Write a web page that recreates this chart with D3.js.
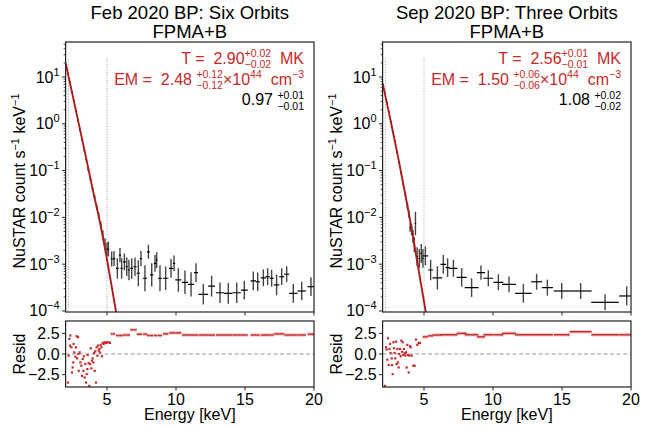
<!DOCTYPE html>
<html>
<head>
<meta charset="utf-8">
<script src="https://cdn.jsdelivr.net/npm/d3@7"></script>
<style>
  body { margin: 0; background: #fff; }
  svg { font-family: "Liberation Sans", Arial, sans-serif; }
  text { white-space: pre; }
</style>
</head>
<body>
<svg id="chart" width="650" height="428"></svg>
<script>
// ---- Feb 2020 (six orbits) ----
const febTitle = ["Feb 2020 BP: Six Orbits", "FPMA+B"];
const febFit = { T: "2.90", Tp: "+0.02", Tm: "\u22120.02", EM: "2.48", EMp: "+0.12", EMm: "\u22120.12", C: "0.97", Cp: "+0.01", Cm: "\u22120.01" };

// model curve (keV, counts/s/keV)
const febModelE = [2.0, 2.5, 3.0, 3.5, 4.0, 4.5, 5.0, 5.5, 5.8];
const febModelRate = [20, 4.2, 0.87, 0.178, 0.0355, 7.6e-3, 1.26e-3, 1.78e-4, 5.4e-5];

// low energy spectrum (dense bins)
const febLoE = [2.15, 2.3, 2.45, 2.6, 2.75, 2.9, 3.05, 3.2, 3.35, 3.5, 3.65, 3.8, 3.95, 4.1, 4.25, 4.4, 4.55, 4.7, 4.85, 5.0, 5.1];
const febLoRate = [11.8, 7.9, 4.8, 3.1, 1.85, 1.2, 0.73, 0.44, 0.27, 0.172, 0.105, 0.066, 0.041, 0.027, 0.0168, 0.0108, 0.0068, 0.0042, 0.0027, 0.0021, 0.0021];
const febLoErr = [0.01, 0.01, 0.01, 0.012, 0.012, 0.015, 0.015, 0.02, 0.02, 0.025, 0.03, 0.035, 0.04, 0.05, 0.06, 0.07, 0.08, 0.1, 0.12, 0.14, 0.16];

// high energy spectrum (wide bins)
const febHiE = [5.34, 5.51, 5.75, 5.94, 6.06, 6.26, 6.43, 6.59, 6.79, 7.03, 7.27, 7.46, 7.75, 8.00, 8.24, 8.48, 8.60, 8.84, 9.25, 9.64, 9.86, 10.17, 10.65, 11.09, 11.45, 11.98, 12.58, 13.19, 13.79, 14.40, 14.95, 15.60, 15.92, 16.33, 16.64, 16.93, 17.29, 17.66, 18.02, 18.50, 19.11, 19.78];
const febHiRate = [1.29e-3, 1.32e-3, 8.1e-4, 1.56e-3, 8.1e-4, 1.12e-3, 8.8e-4, 7.5e-4, 8.1e-4, 8.8e-4, 6.4e-4, 1.32e-3, 5.0e-4, 1.84e-3, 5.9e-4, 1.04e-3, 1.22e-3, 5.0e-4, 5.0e-4, 8.1e-4, 1.04e-3, 4.6e-4, 4.1e-4, 3.7e-4, 6.6e-4, 2.27e-4, 3.4e-4, 2.45e-4, 2.38e-4, 2.45e-4, 2.8e-4, 4.4e-4, 4.2e-4, 5.1e-4, 5.4e-4, 5.0e-4, 3.6e-4, 5.4e-4, 6.1e-4, 2.38e-4, 2.67e-4, 3.3e-4];
const febHiBin = [0.08, 0.08, 0.10, 0.08, 0.08, 0.10, 0.08, 0.08, 0.10, 0.12, 0.12, 0.08, 0.15, 0.10, 0.12, 0.08, 0.06, 0.15, 0.20, 0.15, 0.08, 0.22, 0.22, 0.22, 0.15, 0.35, 0.25, 0.30, 0.30, 0.30, 0.25, 0.20, 0.15, 0.20, 0.15, 0.15, 0.20, 0.18, 0.18, 0.30, 0.30, 0.25];
const febHiErr = [0.16, 0.16, 0.22, 0.15, 0.22, 0.18, 0.2, 0.22, 0.22, 0.2, 0.28, 0.16, 0.28, 0.15, 0.25, 0.18, 0.17, 0.28, 0.25, 0.2, 0.17, 0.25, 0.25, 0.26, 0.2, 0.22, 0.22, 0.22, 0.22, 0.22, 0.2, 0.2, 0.2, 0.18, 0.18, 0.18, 0.22, 0.18, 0.17, 0.2, 0.2, 0.2];
const febHiResid = [2.44, 2.44, 2.24, 2.24, 2.24, 2.3, 2.3, 2.3, 2.93, 2.93, 2.4, 2.4, 2.4, 2.24, 2.24, 2.24, 2.24, 2.24, 2.44, 2.56, 2.56, 2.56, 2.3, 2.3, 2.3, 2.3, 2.3, 2.3, 2.3, 2.3, 2.3, 2.3, 2.3, 2.3, 2.3, 2.3, 2.44, 2.44, 2.3, 2.3, 2.3, 2.4];

// low energy residuals
const febResE = [2.17, 2.22, 2.27, 2.32, 2.34, 2.42, 2.46, 2.51, 2.56, 2.58, 2.63, 2.71, 2.75, 2.80, 2.83, 2.90, 2.92, 2.95, 3.02, 3.07, 3.14, 3.19, 3.24, 3.29, 3.33, 3.38, 3.43, 3.48, 3.53, 3.58, 3.60, 3.67, 3.72, 3.77, 3.82, 3.86, 3.91, 3.96, 4.01, 4.06, 4.11, 4.15, 4.20, 4.25, 4.30, 4.35, 4.40, 4.45, 4.49, 4.54, 4.59, 4.64, 4.69, 4.76, 4.83, 4.93, 5.02, 5.12, 5.22];
const febResV = [-3.46, -0.2, 1.83, 1.02, 2.24, 0.81, -2.24, -1.63, -1.02, 1.22, 0.2, -0.33, 0.81, 2.16, -0.53, 2.04, 0.0, -2.04, 0.2, -1.02, -1.42, -2.65, -0.61, -2.04, -0.28, -2.85, -1.22, -3.46, -2.44, -1.83, -0.12, -1.1, -3.87, -1.22, 0.69, -1.75, -0.81, -0.53, -1.02, 0.12, -2.04, 0.33, -3.46, 0.81, -0.2, 1.02, 0.41, 0.61, 0.2, 1.1, 0.81, -0.28, 1.34, 1.22, 1.42, 1.34, 1.42, 1.42, 1.34];

// ---- Sep 2020 (three orbits) ----
const sepTitle = ["Sep 2020 BP: Three Orbits", "FPMA+B"];
const sepFit = { T: "2.56", Tp: "+0.01", Tm: "\u22120.01", EM: "1.50", EMp: "+0.06", EMm: "\u22120.06", C: "1.08", Cp: "+0.02", Cm: "\u22120.02" };

const sepModelE = [2.0, 2.5, 3.0, 3.5, 4.0, 4.5, 5.0, 5.3];
const sepModelRate = [7.4, 1.51, 0.295, 0.052, 8.5e-3, 1.17e-3, 1.58e-4, 4.8e-5];

const sepLoE = [2.15, 2.3, 2.45, 2.6, 2.75, 2.9, 3.05, 3.2, 3.35, 3.5, 3.65, 3.8, 3.9, 4.0, 4.1, 4.2, 4.3, 4.38, 4.5, 4.66, 4.8, 4.92];
const sepLoRate = [4.5, 2.9, 1.8, 1.12, 0.66, 0.42, 0.245, 0.15, 0.088, 0.052, 0.031, 0.0172, 0.0118, 0.0062, 0.0055, 0.0039, 0.0026, 0.0074, 0.00145, 0.00133, 0.0017, 0.00133];
const sepLoErr = [0.012, 0.012, 0.015, 0.015, 0.018, 0.02, 0.025, 0.03, 0.035, 0.04, 0.05, 0.06, 0.08, 0.1, 0.12, 0.14, 0.16, 0.25, 0.2, 0.2, 0.2, 0.2];

const sepHiE = [5.1, 5.48, 5.97, 6.40, 6.71, 7.13, 7.73, 8.45, 9.13, 9.66, 10.39, 11.16, 12.20, 13.16, 13.94, 14.98, 16.35, 18.12, 19.69];
const sepHiRate = [1.5e-3, 7.5e-4, 5.1e-4, 9.9e-4, 8.4e-4, 8.1e-4, 5.2e-4, 3.15e-4, 6.6e-4, 5.0e-4, 4.1e-4, 3.7e-4, 2.38e-4, 4.2e-4, 3.15e-4, 2.67e-4, 2.67e-4, 1.53e-4, 2.09e-4];
const sepHiBin = [0.2, 0.18, 0.35, 0.20, 0.15, 0.30, 0.36, 0.50, 0.30, 0.36, 0.36, 0.50, 0.60, 0.40, 0.40, 0.58, 0.80, 1.00, 0.55];
const sepHiErr = [0.2, 0.22, 0.25, 0.2, 0.2, 0.18, 0.2, 0.2, 0.15, 0.17, 0.17, 0.17, 0.2, 0.17, 0.17, 0.17, 0.17, 0.17, 0.2];
const sepHiResid = [2.08, 2.2, 2.3, 2.33, 2.33, 2.33, 2.5, 2.33, 2.08, 2.33, 2.33, 2.5, 2.33, 2.33, 2.33, 2.33, 2.7, 2.33, 2.33];

const sepResE = [2.17, 2.25, 2.29, 2.34, 2.39, 2.44, 2.49, 2.54, 2.58, 2.66, 2.68, 2.73, 2.78, 2.83, 2.87, 2.92, 2.97, 3.02, 3.07, 3.12, 3.16, 3.21, 3.26, 3.31, 3.36, 3.41, 3.45, 3.50, 3.55, 3.60, 3.65, 3.70, 3.74, 3.79, 3.84, 3.89, 3.94, 3.99, 4.03, 4.11, 4.23, 4.32, 4.42, 4.52, 4.61, 4.71];
const sepResV = [-3.87, 0.81, 0.53, -0.69, 1.91, -1.34, 0.61, 1.22, 0.12, -0.53, -1.34, -2.44, 1.42, 0.69, 0.12, -0.53, 1.5, -1.22, 0.61, -1.02, -1.63, 0.0, 0.61, -0.28, 1.63, 0.28, 1.42, -0.12, 0.61, 0.12, -0.2, 0.2, -1.63, 1.1, -0.12, -2.24, -0.2, 0.94, 0.81, -0.2, -1.42, -1.42, 1.75, 1.1, 1.34, 1.34];

// shared axis settings
const energyTicks = [5, 10, 15, 20];
const rateTicks = [1e1, 1e0, 1e-1, 1e-2, 1e-3, 1e-4];
const residTicks = [-2.5, 0, 2.5];
const fitRange = [2.2, 5.0];

const RED = "#c42a2a";
const LINE_RED = "#ac1b1b";
const FONT = 16;
const SMALL = 10.5;

const svg = d3.select("#chart");
const mainTop = 42, mainBot = 312, resTop = 321, resBot = 387;

function sup(n) { return n.replace("-", "\u2212"); }

// lays out a row of text pieces (with stacked +/- errors) ending at xRight
function richText(g, xRight, yBase, parts, color) {
    const t = g.append("g").attr("fill", color);
    let cx = 0;
    parts.forEach(p => {
        if (p.stack) {
            const a = t.append("text").attr("x", cx).attr("y", -p.up).attr("font-size", p.size).text(p.stack[0]);
            const b = t.append("text").attr("x", cx).attr("y", p.down).attr("font-size", p.size).text(p.stack[1]);
            cx += Math.max(a.node().getComputedTextLength(), b.node().getComputedTextLength());
        } else {
            const a = t.append("text").attr("x", cx).attr("y", p.dy || 0).attr("font-size", p.size).text(p.text);
            cx += a.node().getComputedTextLength();
        }
    });
    t.attr("transform", `translate(${xRight - cx},${yBase})`);
}

function drawPanel(id, left, right, title, fit, modelE, modelRate, loE, loRate, loErr, hiE, hiRate, hiBin, hiErr, hiResid, resE, resV) {
    const g = svg.append("g");

    const x = d3.scaleLinear().domain([2, 20]).range([left, right]);
    const y = d3.scaleLog().domain([9.5e-5, 56]).range([mainBot, mainTop]);
    const r = d3.scaleLinear().domain([-4, 4]).range([resBot, resTop]);

    g.append("clipPath").attr("id", "clip-" + id)
        .append("rect").attr("x", left).attr("y", mainTop).attr("width", right - left).attr("height", mainBot - mainTop);

    // title
    g.append("text").attr("x", (left + right) / 2).attr("y", 18.5).attr("text-anchor", "middle")
        .attr("font-size", 18.5).text(title[0]);
    g.append("text").attr("x", (left + right) / 2).attr("y", 37.5).attr("text-anchor", "middle")
        .attr("font-size", 18.5).text(title[1]);

    // fit range markers
    g.selectAll(".fr").data(fitRange).enter().append("line")
        .attr("x1", d => x(d)).attr("x2", d => x(d))
        .attr("y1", y(25)).attr("y2", mainBot)
        .attr("stroke", "#aaa").attr("stroke-width", 1).attr("stroke-dasharray", "1.2,1.5");

    const plot = g.append("g").attr("clip-path", `url(#clip-${id})`);

    // spectrum
    const lo = loE.map((e, i) => ({ e, v: loRate[i], b: 0.05, d: loErr[i] }));
    const hi = hiE.map((e, i) => ({ e, v: hiRate[i], b: hiBin[i], d: hiErr[i] }));
    const pts = lo.concat(hi);

    plot.selectAll(".ve").data(pts).enter().append("line")
        .attr("x1", d => x(d.e)).attr("x2", d => x(d.e))
        .attr("y1", d => y(d.v * Math.pow(10, -d.d))).attr("y2", d => y(d.v * Math.pow(10, d.d)))
        .attr("stroke", "#444").attr("stroke-width", 1.4);
    plot.selectAll(".he").data(pts).enter().append("line")
        .attr("x1", d => x(d.e - d.b)).attr("x2", d => x(d.e + d.b))
        .attr("y1", d => y(d.v)).attr("y2", d => y(d.v))
        .attr("stroke", "#000").attr("stroke-width", 1.2);

    // model
    const line = d3.line().x(d => x(d[0])).y(d => y(d[1])).curve(d3.curveMonotoneX);
    plot.append("path").datum(modelE.map((e, i) => [e, modelRate[i]]))
        .attr("fill", "none").attr("stroke", LINE_RED).attr("stroke-width", 1.9).attr("d", line);

    // frame
    g.append("rect").attr("x", left).attr("y", mainTop).attr("width", right - left).attr("height", mainBot - mainTop)
        .attr("fill", "none").attr("stroke", "#222").attr("stroke-width", 1.2);

    // y axis (log)
    const minors = [];
    for (let k = -5; k <= 1; k++) for (let m = 2; m <= 9; m++) {
        const v = m * Math.pow(10, k);
        if (v >= 9.5e-5 && v <= 56) minors.push(v);
    }
    g.selectAll(".ymin").data(minors).enter().append("line")
        .attr("x1", left - 2).attr("x2", left).attr("y1", d => y(d)).attr("y2", d => y(d))
        .attr("stroke", "#222").attr("stroke-width", 0.8);
    g.selectAll(".ymaj").data(rateTicks).enter().append("line")
        .attr("x1", left - 3.5).attr("x2", left).attr("y1", d => y(d)).attr("y2", d => y(d))
        .attr("stroke", "#222").attr("stroke-width", 1);
    const yl = g.selectAll(".ylab").data(rateTicks).enter().append("text")
        .attr("x", left - 6).attr("y", d => y(d) + 5.5).attr("text-anchor", "end").attr("font-size", FONT);
    yl.append("tspan").text("10");
    yl.append("tspan").attr("dy", -7).attr("font-size", 11).text(d => sup(String(Math.round(Math.log10(d)))));

    // x ticks on main (no labels)
    g.selectAll(".xm").data(energyTicks).enter().append("line")
        .attr("x1", d => x(d)).attr("x2", d => x(d)).attr("y1", mainBot).attr("y2", mainBot + 3.5)
        .attr("stroke", "#222").attr("stroke-width", 1);

    // y label
    const ylab = g.append("text").attr("transform", `translate(${left - 41},${(mainTop + mainBot) / 2 + 4}) rotate(-90)`)
        .attr("text-anchor", "middle").attr("font-size", FONT);
    ylab.append("tspan").text("NuSTAR count s");
    ylab.append("tspan").attr("dy", -6).attr("font-size", 11).text("\u22121");
    ylab.append("tspan").attr("dy", 6).text(" keV");
    ylab.append("tspan").attr("dy", -6).attr("font-size", 11).text("\u22121");

    // fit annotations
    const xr = right - 10;
    richText(g, xr, 64, [
        { text: "T =  " + fit.T, size: FONT },
        { stack: [fit.Tp, fit.Tm], size: SMALL, up: 7, down: 3.5 },
        { text: "  MK", size: FONT }
    ], RED);
    richText(g, xr, 84.5, [
        { text: "EM =  " + fit.EM + " ", size: FONT },
        { stack: [fit.EMp, fit.EMm], size: SMALL, up: 6.5, down: 4 },
        { text: "\u00d710", size: FONT },
        { text: "44", size: SMALL, dy: -6.5 },
        { text: "  cm", size: FONT },
        { text: "\u22123", size: SMALL, dy: -6.5 }
    ], RED);
    richText(g, xr, 104.5, [
        { text: fit.C + " ", size: FONT },
        { stack: [fit.Cp, fit.Cm], size: SMALL, up: 5.5, down: 5 }
    ], "#000");

    // ---- residual panel ----
    g.append("line").attr("x1", left).attr("x2", right).attr("y1", r(0)).attr("y2", r(0))
        .attr("stroke", "#999").attr("stroke-width", 1.2).attr("stroke-dasharray", "4,2.5");

    const hres = hiE.map((e, i) => ({ e, b: hiBin[i], v: hiResid[i] }));
    g.selectAll(".rh0").data(hres).enter().append("line")
        .attr("x1", d => x(d.e - d.b)).attr("x2", d => x(Math.min(20, d.e + d.b)))
        .attr("y1", d => r(d.v)).attr("y2", d => r(d.v))
        .attr("stroke", "#f2c2c2").attr("stroke-width", 3.5);
    g.selectAll(".rh").data(hres).enter().append("line")
        .attr("x1", d => x(d.e - d.b)).attr("x2", d => x(Math.min(20, d.e + d.b)))
        .attr("y1", d => r(d.v)).attr("y2", d => r(d.v))
        .attr("stroke", RED).attr("stroke-width", 1.4);

    g.selectAll(".rp").data(resE.map((e, i) => [e, resV[i]])).enter().append("rect")
        .attr("x", d => x(d[0]) - 1.1).attr("y", d => r(d[1]) - 1.1)
        .attr("width", 2.2).attr("height", 2.2).attr("fill", RED);

    g.append("rect").attr("x", left).attr("y", resTop).attr("width", right - left).attr("height", resBot - resTop)
        .attr("fill", "none").attr("stroke", "#222").attr("stroke-width", 1.2);

    g.selectAll(".rt").data(residTicks).enter().append("line")
        .attr("x1", left - 3.5).attr("x2", left).attr("y1", d => r(d)).attr("y2", d => r(d))
        .attr("stroke", "#222").attr("stroke-width", 1);
    g.selectAll(".rl").data(residTicks).enter().append("text")
        .attr("x", left - 6).attr("y", d => r(d) + 5.5).attr("text-anchor", "end").attr("font-size", FONT)
        .text(d => d3.format(".1f")(d).replace("-", "\u2212"));

    g.selectAll(".xt").data(energyTicks).enter().append("line")
        .attr("x1", d => x(d)).attr("x2", d => x(d)).attr("y1", resBot).attr("y2", resBot + 3.5)
        .attr("stroke", "#222").attr("stroke-width", 1);
    g.selectAll(".xl").data(energyTicks).enter().append("text")
        .attr("x", d => x(d)).attr("y", resBot + 17.5).attr("text-anchor", "middle").attr("font-size", FONT)
        .text(d => d);

    g.append("text").attr("transform", `translate(${left - 41},${(resTop + resBot) / 2}) rotate(-90)`)
        .attr("text-anchor", "middle").attr("font-size", FONT).text("Resid");

    g.append("text").attr("x", (left + right) / 2).attr("y", 420).attr("text-anchor", "middle")
        .attr("font-size", FONT).text("Energy [keV]");
}

drawPanel("feb", 65.6, 314, febTitle, febFit, febModelE, febModelRate, febLoE, febLoRate, febLoErr,
    febHiE, febHiRate, febHiBin, febHiErr, febHiResid, febResE, febResV);
drawPanel("sep", 382.6, 631, sepTitle, sepFit, sepModelE, sepModelRate, sepLoE, sepLoRate, sepLoErr,
    sepHiE, sepHiRate, sepHiBin, sepHiErr, sepHiResid, sepResE, sepResV);
</script>
</body>
</html>
